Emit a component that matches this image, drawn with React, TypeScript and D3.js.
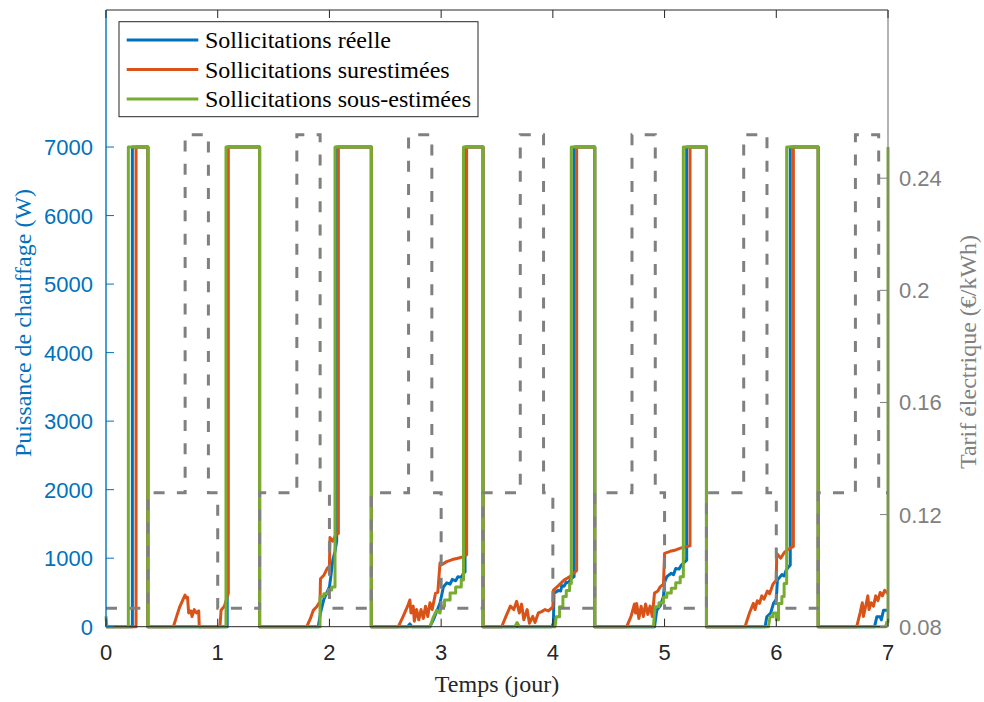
import React from "react";
import * as d3 from "d3";

// ---------- DATA ----------
const xTicks = [0, 1, 2, 3, 4, 5, 6, 7];
const leftTicks = [0, 1000, 2000, 3000, 4000, 5000, 6000, 7000];
const rightTicks = [0.08, 0.12, 0.16, 0.2, 0.24];

const seriesNames = [
  "Sollicitations réelle",
  "Sollicitations surestimées",
  "Sollicitations sous-estimées",
];
const seriesColors = ["#0072BD", "#D95319", "#77AC30"];

// [time (day), power (W)]
const reelle: [number, number][] = [
  [0, 0], [0.236, 0], [0.236, 7000], [0.375, 7000], [0.375, 0],
  [1.085, 0], [1.085, 7000], [1.375, 7000], [1.375, 0],
  [1.9, 0], [1.92, 200], [1.95, 400], [1.975, 490], [2.0, 580], [2.01, 700], [2.03, 970], [2.05, 1100], [2.065, 1250], [2.065, 7000], [2.375, 7000], [2.375, 0],
  [2.7, 0], [2.72, 40], [2.74, 0], [2.9, 0], [2.93, 100], [2.99, 345], [3.02, 580], [3.05, 640], [3.08, 620], [3.1, 690], [3.13, 670], [3.15, 730], [3.18, 720], [3.2, 780], [3.214, 800], [3.214, 7000], [3.375, 7000], [3.375, 0],
  [3.99, 0], [4.005, 50], [4.01, 490], [4.05, 530], [4.07, 520], [4.08, 600], [4.1, 590], [4.12, 650], [4.14, 640], [4.16, 700], [4.19, 730], [4.19, 7000], [4.375, 7000], [4.375, 0],
  [4.91, 0], [4.93, 240], [4.96, 300], [4.99, 440], [5.0, 650], [5.02, 730], [5.06, 780], [5.08, 760], [5.1, 850], [5.13, 840], [5.15, 900], [5.198, 970], [5.198, 7000], [5.375, 7000], [5.375, 0],
  [5.9, 0], [5.915, 145], [5.95, 200], [5.975, 340], [6.0, 400], [6.01, 680], [6.05, 760], [6.07, 740], [6.09, 830], [6.125, 900], [6.125, 7000], [6.375, 7000], [6.375, 0],
  [6.88, 0], [6.9, 145], [6.93, 145], [6.94, 100], [6.96, 240], [7.0, 240],
];

const surestimees: [number, number][] = [
  [0, 0], [0.269, 0], [0.269, 7000], [0.375, 7000], [0.375, 0],
  [0.603, 0], [0.63, 140], [0.66, 290], [0.69, 400], [0.707, 460], [0.72, 420], [0.73, 430], [0.74, 200], [0.76, 230], [0.77, 150], [0.79, 250], [0.81, 200], [0.83, 230], [0.835, 0],
  [1.02, 0], [1.03, 240], [1.06, 300], [1.095, 490], [1.095, 7000], [1.375, 7000], [1.375, 0],
  [1.797, 0], [1.83, 120], [1.856, 240], [1.89, 300], [1.916, 365], [1.92, 700], [1.95, 750], [1.98, 850], [2.0, 880], [2.005, 1300], [2.03, 1250], [2.06, 1350], [2.08, 1360], [2.08, 7000], [2.375, 7000], [2.375, 0],
  [2.617, 0], [2.66, 150], [2.7, 300], [2.72, 390], [2.73, 200], [2.75, 300], [2.76, 80], [2.78, 250], [2.8, 100], [2.82, 250], [2.84, 120], [2.86, 300], [2.88, 150], [2.9, 350], [2.92, 250], [2.95, 490], [2.97, 500], [2.99, 930], [3.0, 900], [3.05, 950], [3.1, 980], [3.15, 1000], [3.2, 1020], [3.228, 1050], [3.228, 7000], [3.375, 7000], [3.375, 0],
  [3.542, 0], [3.58, 150], [3.62, 300], [3.65, 250], [3.676, 370], [3.7, 200], [3.72, 330], [3.74, 100], [3.77, 250], [3.79, 50], [3.82, 150], [3.84, 60], [3.87, 200], [3.9, 220], [3.93, 250], [3.96, 230], [4.0, 290], [4.005, 535], [4.05, 600], [4.1, 680], [4.15, 730], [4.2, 800], [4.213, 820], [4.213, 7000], [4.375, 7000], [4.375, 0],
  [4.661, 0], [4.7, 150], [4.73, 330], [4.74, 200], [4.75, 340], [4.77, 120], [4.79, 300], [4.81, 150], [4.83, 330], [4.85, 180], [4.87, 300], [4.89, 150], [4.91, 490], [4.94, 520], [4.96, 580], [4.99, 620], [5.0, 1070], [5.05, 1100], [5.1, 1120], [5.15, 1150], [5.2, 1170], [5.228, 1180], [5.228, 7000], [5.375, 7000], [5.375, 0],
  [5.72, 0], [5.76, 200], [5.795, 340], [5.81, 250], [5.83, 380], [5.85, 340], [5.87, 450], [5.89, 400], [5.92, 520], [5.94, 480], [5.97, 620], [6.0, 680], [6.004, 1070], [6.04, 1000], [6.07, 1080], [6.1, 1120], [6.13, 1150], [6.153, 1170], [6.153, 7000], [6.375, 7000], [6.375, 0],
  [6.72, 0], [6.75, 200], [6.77, 350], [6.78, 150], [6.8, 300], [6.82, 450], [6.83, 250], [6.85, 350], [6.87, 300], [6.89, 450], [6.91, 380], [6.93, 500], [6.95, 450], [6.97, 530], [7.0, 480],
];

const sousEstimees: [number, number][] = [
  [0, 150], [0.008, 0], [0.2, 0], [0.2, 7000], [0.375, 7000], [0.375, 0],
  [1.074, 0], [1.074, 7000], [1.375, 7000], [1.375, 0],
  [1.916, 0], [1.916, 440], [1.95, 440], [1.95, 480], [1.99, 480], [1.99, 535], [2.02, 535], [2.02, 580], [2.05, 580], [2.05, 7000], [2.375, 7000], [2.375, 0],
  [2.9, 0], [2.93, 140], [2.96, 240], [2.99, 200], [3.0, 300], [3.03, 300], [3.03, 390], [3.08, 390], [3.08, 490], [3.13, 490], [3.13, 580], [3.18, 580], [3.18, 680], [3.2, 680], [3.2, 7000], [3.375, 7000], [3.375, 0],
  [3.66, 0], [3.68, 60], [3.7, 0],
  [4.02, 0], [4.03, 145], [4.06, 145], [4.06, 290], [4.09, 290], [4.09, 440], [4.12, 440], [4.12, 530], [4.15, 530], [4.15, 630], [4.165, 630], [4.165, 7000], [4.375, 7000], [4.375, 0],
  [4.9, 0], [4.915, 290], [4.95, 290], [4.95, 350], [4.99, 350], [4.99, 430], [5.02, 430], [5.02, 490], [5.06, 490], [5.06, 560], [5.1, 560], [5.1, 640], [5.14, 640], [5.14, 730], [5.168, 730], [5.168, 7000], [5.375, 7000], [5.375, 0],
  [5.93, 0], [5.944, 145], [5.97, 145], [5.97, 200], [6.0, 200], [6.0, 100], [6.02, 100], [6.02, 340], [6.05, 340], [6.05, 440], [6.07, 440], [6.07, 630], [6.093, 630], [6.093, 7000], [6.375, 7000], [6.375, 0],
  [6.98, 0], [6.99, 70], [7.0, 70], [7.0, 7000],
];

// [time (day), tariff (€/kWh)] step-after
const tarif: [number, number][] = [
  [0, 0.0866], [0.375, 0.1278], [0.7083, 0.2555], [0.9167, 0.1278],
  [1, 0.0866], [1.375, 0.1278], [1.7083, 0.2555], [1.9167, 0.1278],
  [2, 0.0866], [2.375, 0.1278], [2.7083, 0.2555], [2.9167, 0.1278],
  [3, 0.0866], [3.375, 0.1278], [3.7083, 0.2555], [3.9167, 0.1278],
  [4, 0.0866], [4.375, 0.1278], [4.7083, 0.2555], [4.9167, 0.1278],
  [5, 0.0866], [5.375, 0.1278], [5.7083, 0.2555], [5.9167, 0.1278],
  [6, 0.0866], [6.375, 0.1278], [6.7083, 0.2555], [6.9167, 0.1278],
  [7, 0.1278],
];

// ---------- LAYOUT ----------
const W = 984;
const H = 702;
const L = 106;
const R = 888;
const T = 10;
const B = 626.7;

const AX = "#262626";
const BLUE = "#0072BD";
const GREY = "#808080";
const SANS = "'Liberation Sans', Arial, Helvetica, sans-serif";
const SERIF = "'Liberation Serif', 'Times New Roman', serif";

export default function App() {
  const x = d3.scaleLinear().domain([0, 7]).range([L, R]);
  const yL = d3.scaleLinear().domain([0, 9000]).range([B, T]);
  const yR = d3.scaleLinear().domain([0.08, 0.3]).range([B, T]);

  const line = d3
    .line<[number, number]>()
    .x((d) => x(d[0]))
    .y((d) => yL(d[1]));
  const tline = d3
    .line<[number, number]>()
    .x((d) => x(d[0]))
    .y((d) => yR(d[1]))
    .curve(d3.curveStepAfter);

  const series = [reelle, surestimees, sousEstimees];
  const tick = 8;

  return (
    <svg
      width={W}
      height={H}
      style={{ position: "absolute", left: 0, top: 0, background: "#fff" }}
    >
      <rect x={0} y={0} width={W} height={H} fill="#fff" />

      {series.map((s, i) => (
        <path
          key={i}
          d={line(s) || ""}
          fill="none"
          stroke={seriesColors[i]}
          strokeWidth={3}
          strokeLinejoin="round"
        />
      ))}

      <path
        d={tline(tarif) || ""}
        fill="none"
        stroke={GREY}
        strokeWidth={3}
        strokeDasharray="11 12.3"
      />

      {/* box lines */}
      <line x1={L} x2={R} y1={T} y2={T} stroke={AX} strokeWidth={1} />
      <line x1={L} x2={R} y1={B} y2={B} stroke={AX} strokeWidth={1} />
      <line x1={R} x2={R} y1={T} y2={B} stroke={GREY} strokeWidth={1.2} />
      <line x1={L} x2={L} y1={T} y2={B} stroke={BLUE} strokeWidth={1.4} />

      {/* x ticks */}
      {xTicks.map((t) => (
        <g key={"xt" + t}>
          <line x1={x(t)} x2={x(t)} y1={B} y2={B - tick} stroke={AX} strokeWidth={1} />
          <line x1={x(t)} x2={x(t)} y1={T} y2={T + tick} stroke={AX} strokeWidth={1} />
          <text
            x={x(t)}
            y={660}
            textAnchor="middle"
            fontFamily={SANS}
            fontSize={22}
            fill={AX}
          >
            {t}
          </text>
        </g>
      ))}

      {/* left ticks */}
      {leftTicks.map((v) => (
        <g key={"yl" + v}>
          <line x1={L} x2={L + tick} y1={yL(v)} y2={yL(v)} stroke={BLUE} strokeWidth={1} />
          <text
            x={93}
            y={yL(v) + 8}
            textAnchor="end"
            fontFamily={SANS}
            fontSize={22}
            fill={BLUE}
          >
            {v}
          </text>
        </g>
      ))}

      {/* right ticks */}
      {rightTicks.map((v) => (
        <g key={"yr" + v}>
          <line x1={R} x2={R - tick} y1={yR(v)} y2={yR(v)} stroke={GREY} strokeWidth={1} />
          <text
            x={899}
            y={yR(v) + 8}
            textAnchor="start"
            fontFamily={SANS}
            fontSize={22}
            fill={GREY}
          >
            {String(v)}
          </text>
        </g>
      ))}

      {/* axis labels */}
      <text
        x={(L + R) / 2}
        y={692}
        textAnchor="middle"
        fontFamily={SERIF}
        fontSize={24}
        fill={AX}
      >
        Temps (jour)
      </text>
      <text
        transform={`translate(31, 323) rotate(-90)`}
        textAnchor="middle"
        fontFamily={SERIF}
        fontSize={24}
        fill={BLUE}
      >
        Puissance de chauffage (W)
      </text>
      <text
        transform={`translate(976, 352) rotate(-90)`}
        textAnchor="middle"
        fontFamily={SERIF}
        fontSize={24}
        fill={GREY}
      >
        Tarif électrique (€/kWh)
      </text>

      {/* legend */}
      <g>
        <rect
          x={119}
          y={21.7}
          width={359}
          height={95}
          fill="#fff"
          stroke={AX}
          strokeWidth={1}
        />
        {seriesNames.map((n, i) => {
          const ly = 40 + i * 29.5;
          return (
            <g key={n}>
              <line
                x1={126.7}
                x2={198.3}
                y1={ly}
                y2={ly}
                stroke={seriesColors[i]}
                strokeWidth={3}
              />
              <text
                x={205}
                y={ly + 8}
                fontFamily={SERIF}
                fontSize={24}
                fill="#000"
              >
                {n}
              </text>
            </g>
          );
        })}
      </g>
    </svg>
  );
}
